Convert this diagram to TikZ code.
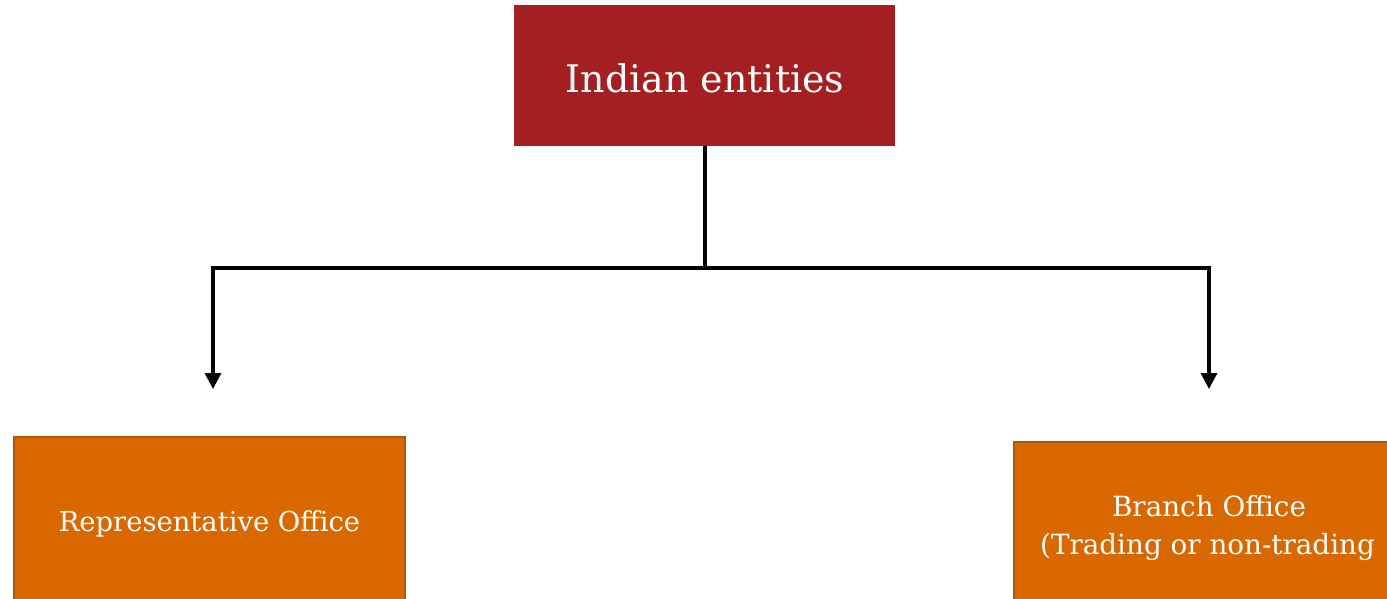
\documentclass[tikz,border=0pt]{standalone}
\usepackage{fontspec}
\setmainfont{DejaVu Serif}
\usetikzlibrary{arrows.meta}
\definecolor{topred}{HTML}{A31F22}
\definecolor{orfill}{HTML}{DA6800}
\definecolor{ordraw}{HTML}{B0560A}
\tikzset{
  topbox/.style={fill=topred, draw=none, text=white, align=center, inner sep=0pt},
  orbox/.style={fill=orfill, draw=ordraw, line width=1.5pt, text=white, align=center, inner sep=0pt},
  conn/.style={line width=3.3pt, black},
  connarrow/.style={conn, -{Triangle[length=16pt 0,width=16pt 0]}}
}
\begin{document}
\begin{tikzpicture}[x=1pt,y=-1pt]
\useasboundingbox (0,0) rectangle (1387,598);
\begin{scope}
\clip (0,0) rectangle (1387,598);
\node[topbox, minimum width=381pt, minimum height=141pt] (top) at (704.5,75.5) {};
\node[text=white, anchor=base, inner sep=0pt] (toptxt) at (705,92) {\fontsize{38}{46}\selectfont Indian entities};
\node[orbox, minimum width=391pt, minimum height=200pt] (rep) at (209.5,537) {};
\node[text=white, anchor=base, inner sep=0pt] (reptxt) at (209.5,531) {\fontsize{27.4}{34}\selectfont Representative Office};
\node[orbox, minimum width=400pt, minimum height=200pt] (branch) at (1214,542) {};
\node[text=white, anchor=base, inner sep=0pt] (br1) at (1209,516) {\fontsize{27.8}{34}\selectfont Branch Office};
\node[text=white, anchor=base west, inner sep=0pt] (br2) at (1040,554) {\fontsize{27.8}{34}\selectfont (Trading or non-trading};
\end{scope}
\coordinate (junc) at (705,268);
\coordinate (lcorner) at (213,268);
\coordinate (rcorner) at (1209,268);
\coordinate (lend) at (213,389);
\coordinate (rend) at (1209,389);
\draw[conn] (top.south -| junc) -- (junc);
\draw[connarrow] (junc) -- (lcorner) -- (lend);
\draw[connarrow] (junc) -- (rcorner) -- (rend);
\end{tikzpicture}
\end{document}
